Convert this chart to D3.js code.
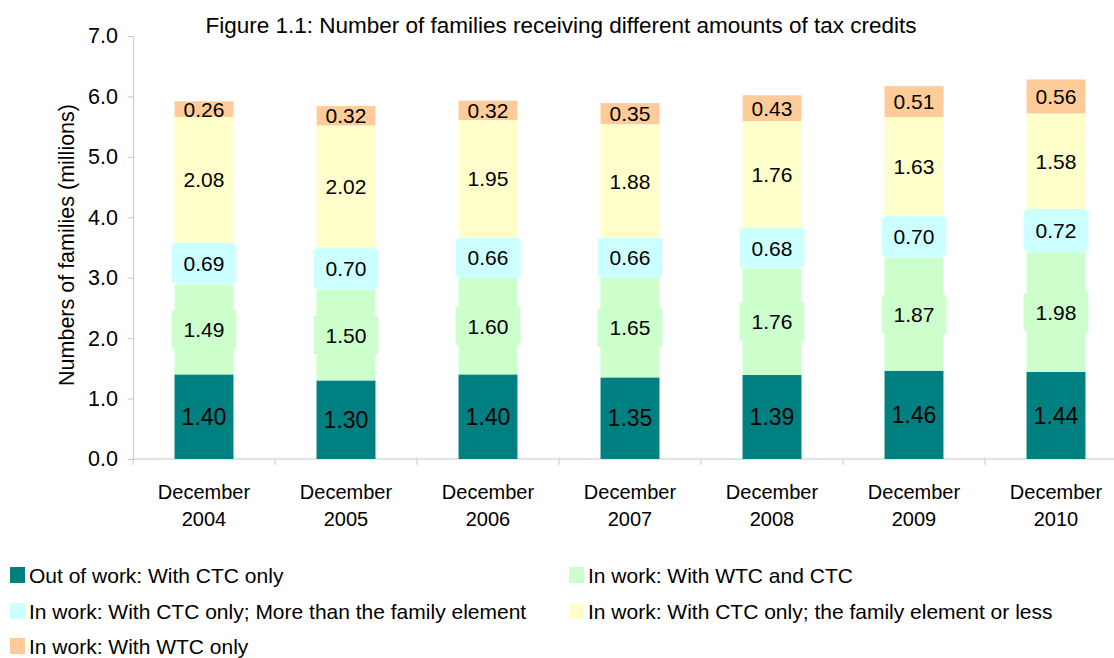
<!DOCTYPE html>
<html>
<head>
<meta charset="utf-8">
<script src="https://cdn.jsdelivr.net/npm/d3@7"></script>
<style>
  body { margin: 0; background: #fff; }
  text { font-family: "Liberation Sans", Arial, sans-serif; fill: #000; }
</style>
</head>
<body>
<script>
// Data
const periods = ["December 2004", "December 2005", "December 2006", "December 2007",
                 "December 2008", "December 2009", "December 2010"];
const seriesNames = [
  "Out of work: With CTC only",
  "In work: With WTC and CTC",
  "In work: With CTC only; More than the family element",
  "In work: With CTC only; the family element or less",
  "In work: With WTC only"
];
const outOfWorkCTC   = [1.40, 1.30, 1.40, 1.35, 1.39, 1.46, 1.44];
const inWorkWTCandCTC = [1.49, 1.50, 1.60, 1.65, 1.76, 1.87, 1.98];
const ctcMoreThanFamily = [0.69, 0.70, 0.66, 0.66, 0.68, 0.70, 0.72];
const ctcFamilyOrLess = [2.08, 2.02, 1.95, 1.88, 1.76, 1.63, 1.58];
const wtcOnly        = [0.26, 0.32, 0.32, 0.35, 0.43, 0.51, 0.56];
const yTicks = [0, 1, 2, 3, 4, 5, 6, 7];
const colors = ["#008080", "#CCFFCC", "#CCFFFF", "#FFFFCC", "#FFCC99"];

const seriesValues = [outOfWorkCTC, inWorkWTCandCTC, ctcMoreThanFamily, ctcFamilyOrLess, wtcOnly];
const keys = seriesNames.map((d, i) => "s" + i);
const table = periods.map((p, j) => {
  const row = { period: p };
  keys.forEach((k, i) => row[k] = seriesValues[i][j]);
  return row;
});

const width = 1114, height = 658;
const svg = d3.select("body").append("svg")
  .attr("width", width).attr("height", height);

const x = d3.scaleBand()
  .domain(periods)
  .range([133, 1127])
  .paddingInner(0.585)
  .paddingOuter(0.2925);

const y = d3.scaleLinear()
  .domain([0, 7])
  .range([459, 36]);

const stacked = d3.stack().keys(keys)(table);

// Title
svg.append("text")
  .attr("x", 561).attr("y", 33)
  .attr("text-anchor", "middle")
  .style("font-size", "22.5px")
  .text("Figure 1.1: Number of families receiving different amounts of tax credits");

// Y axis
const yAxis = svg.append("g")
  .attr("transform", "translate(133,0)")
  .call(d3.axisLeft(y).tickValues(yTicks).tickFormat(d3.format(".1f")).tickSize(5).tickPadding(10));
yAxis.select(".domain").attr("stroke", "#c8c8c8");
yAxis.selectAll(".tick line").attr("stroke", "#c8c8c8");
yAxis.selectAll(".tick text")
  .style("font-size", "21.5px")
  .style("font-family", "'Liberation Sans', Arial, sans-serif");

svg.append("text")
  .attr("transform", "translate(74,245) rotate(-90)")
  .attr("text-anchor", "middle")
  .style("font-size", "21.5px")
  .text("Numbers of families (millions)");

// X axis
const xAxisG = svg.append("g").attr("transform", "translate(0,459)");
xAxisG.append("line")
  .attr("x1", 133).attr("x2", 1127)
  .attr("stroke", "#c8c8c8");
const boundaries = periods.map(p => x(p) - x.step() * x.paddingInner() / 2).concat([x.range()[1]]);
xAxisG.selectAll(".xtick").data(boundaries).join("line")
  .attr("x1", d => d).attr("x2", d => d)
  .attr("y1", 0).attr("y2", 6)
  .attr("stroke", "#c8c8c8");
xAxisG.selectAll(".xlab").data(periods).join("text")
  .attr("text-anchor", "middle")
  .attr("x", d => x(d) + x.bandwidth() / 2)
  .style("font-size", "20px")
  .each(function(d) {
    const parts = d.split(" ");
    d3.select(this).selectAll("tspan").data(parts).join("tspan")
      .attr("x", x(d) + x.bandwidth() / 2)
      .attr("y", (p, i) => 40 + i * 27)
      .text(p => p);
  });

// Bars
const layers = svg.append("g").selectAll("g").data(stacked).join("g")
  .attr("fill", (d, i) => colors[i]);
layers.selectAll("rect").data(d => d).join("rect")
  .attr("x", d => x(d.data.period))
  .attr("width", x.bandwidth())
  .attr("y", d => y(d[1]))
  .attr("height", d => y(d[0]) - y(d[1]));

// Data labels (green and cyan series carry a slightly wider filled box)
const boxedSeries = [1, 2];
const labels = svg.append("g");
stacked.forEach((layer, i) => {
  layer.forEach(d => {
    const cx = x(d.data.period) + x.bandwidth() / 2;
    const cy = (y(d[0]) + y(d[1])) / 2;
    if (boxedSeries.includes(i)) {
      const h = Math.min(38, y(d[0]) - y(d[1]));
      labels.append("rect")
        .attr("x", cx - x.bandwidth() / 2 - 3)
        .attr("width", x.bandwidth() + 6)
        .attr("y", cy - h / 2)
        .attr("height", h)
        .attr("fill", colors[i]);
    }
    labels.append("text")
      .attr("x", cx)
      .attr("y", cy)
      .attr("dy", "0.36em")
      .attr("text-anchor", "middle")
      .style("font-size", i === 0 ? "23px" : "21px")
      .text(d3.format(".2f")(d[1] - d[0]));
  });
});

// Legend
const legendPos = [[10, 575], [569, 575], [10, 611], [569, 611], [10, 646]];
const legend = svg.append("g").selectAll("g").data(seriesNames).join("g")
  .attr("transform", (d, i) => `translate(${legendPos[i][0]},${legendPos[i][1]})`);
legend.append("rect")
  .attr("x", 0).attr("y", -8)
  .attr("width", 15).attr("height", 16)
  .attr("fill", (d, i) => colors[i]);
legend.append("text")
  .attr("x", 19).attr("y", 0).attr("dy", "0.36em")
  .style("font-size", "21px")
  .text(d => d);
</script>
</body>
</html>
